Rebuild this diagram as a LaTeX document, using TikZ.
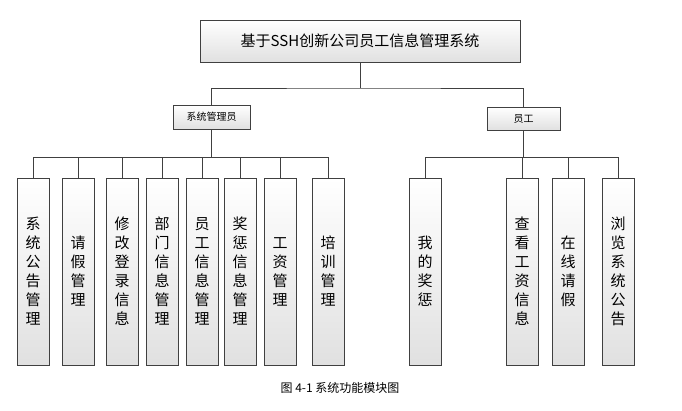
\documentclass[tikz,border=0pt]{standalone}
\usepackage{fontspec}
\setmainfont{Noto Sans CJK SC}
\begin{document}
\begin{tikzpicture}[x=1pt,y=-1pt,
  box/.style={draw=black!75,top color=white,bottom color=black!12,inner sep=0pt},
  leaf/.style={box,minimum width=32pt,minimum height=187pt,align=center,font=\fontsize{15}{19}\selectfont},
  ln/.style={draw=black!75,line width=0.6pt}]
\useasboundingbox (0,0) rectangle (682,411);
\node[box,minimum width=320pt,minimum height=42pt,font=\fontsize{15}{18}\selectfont] (top) at (360,41) {基于SSH创新公司员工信息管理系统};
\node[box,minimum width=77pt,minimum height=24pt,font=\fontsize{10}{12}\selectfont] (adm) at (211.5,117) {系统管理员};
\node[box,minimum width=73pt,minimum height=23pt,font=\fontsize{10}{12}\selectfont] (emp) at (523.5,118.5) {员工};
\coordinate (j) at (360,88);
\draw[ln] (top.south) -- (j);
\draw[ln] (adm.north) |- (j) -| (emp.north);
\foreach \n/\x/\t in {a1/33/系\\统\\公\\告\\管\\理,a2/78/请\\假\\管\\理,a3/122/修\\改\\登\\录\\信\\息,a4/162/部\\门\\信\\息\\管\\理,a5/202/员\\工\\信\\息\\管\\理,a6/240/奖\\惩\\信\\息\\管\\理,a7/280/工\\资\\管\\理,a8/328/培\\训\\管\\理}{
  \node[leaf] (\n) at (\x,271.5) {\t};
  \draw[ln] (\n.north) |- (211.5,157) -- (adm.south);
}
\foreach \n/\x/\t in {e1/425/我\\的\\奖\\惩,e2/522/查\\看\\工\\资\\信\\息,e3/568/在\\线\\请\\假,e4/618/浏\\览\\系\\统\\公\\告}{
  \node[leaf] (\n) at (\x,271.5) {\t};
  \draw[ln] (\n.north) |- (523.5,157) -- (emp.south);
}
\node[font=\fontsize{12}{14}\selectfont] (cap) at (340,388) {图 4-1 系统功能模块图};
\end{tikzpicture}
\end{document}
